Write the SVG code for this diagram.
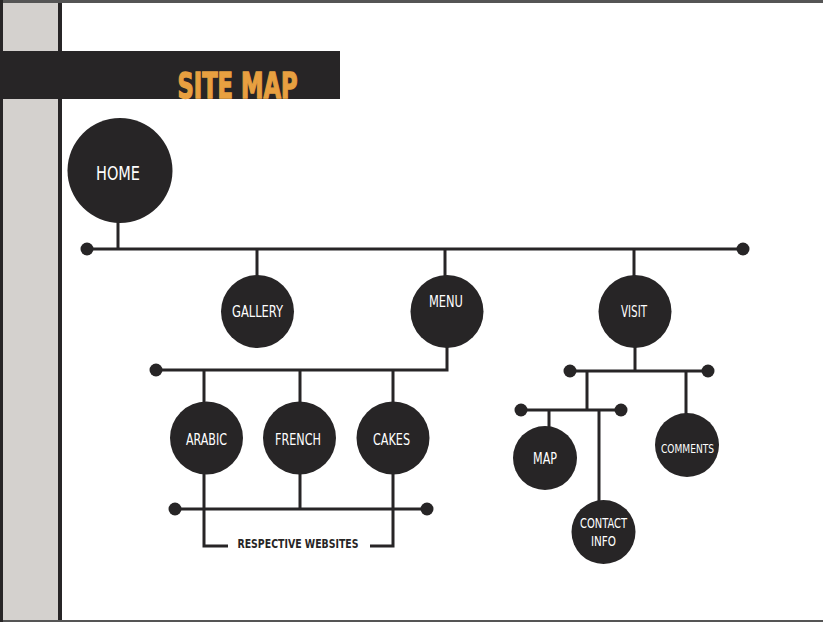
<svg xmlns="http://www.w3.org/2000/svg" width="823" height="622" viewBox="0 0 823 622">
<style>
.ln{stroke:#272526;stroke-width:3;fill:none}
.dot{fill:#272526}
.nd{fill:#272526}
.lb{fill:#ffffff;font-family:"Liberation Sans Narrow","DejaVu Sans Condensed","Liberation Sans",sans-serif;text-anchor:middle}
</style>
<rect x="0" y="0" width="823" height="622" fill="#ffffff"/>
<rect x="0" y="0" width="823" height="3" fill="#555555"/>
<rect x="0" y="620" width="823" height="2" fill="#555555"/>
<rect x="0" y="0" width="3" height="622" fill="#272526"/>
<rect x="3" y="3" width="55" height="617" fill="#d4d1ce"/>
<rect x="58" y="3" width="4" height="617" fill="#272526"/>
<g id="banner">
<rect x="0" y="51" width="340" height="48" fill="#272526"/>
<text x="177.5" y="97.5" font-family="'Liberation Sans Narrow','DejaVu Sans Condensed','Liberation Sans',sans-serif" font-weight="bold" font-size="35" fill="#e8a040" stroke="#e8a040" stroke-width="1.3" textLength="120" lengthAdjust="spacingAndGlyphs">SITE MAP</text>
</g>
<g id="connectors">
<line class="ln" x1="118" y1="220" x2="118" y2="249"/>
<line class="ln" x1="87" y1="249" x2="743" y2="249"/>
<circle class="dot" cx="87" cy="249" r="6.5"/>
<circle class="dot" cx="743" cy="249" r="6.5"/>
<line class="ln" x1="257" y1="249" x2="257" y2="278"/>
<line class="ln" x1="445" y1="249" x2="445" y2="278"/>
<line class="ln" x1="634" y1="249" x2="634" y2="278"/>
<polyline class="ln" points="447,346 447,370 156,370"/>
<circle class="dot" cx="156" cy="370" r="6.5"/>
<line class="ln" x1="204" y1="370" x2="204" y2="404"/>
<line class="ln" x1="300" y1="370" x2="300" y2="404"/>
<line class="ln" x1="393" y1="370" x2="393" y2="404"/>
<line class="ln" x1="175" y1="509" x2="427" y2="509"/>
<circle class="dot" cx="175" cy="509" r="6.5"/>
<circle class="dot" cx="427" cy="509" r="6.5"/>
<polyline class="ln" points="228,546 204,546 204,472"/>
<polyline class="ln" points="370,546 393,546 393,472"/>
<line class="ln" x1="300" y1="472" x2="300" y2="509"/>
<line class="ln" x1="635" y1="346" x2="635" y2="371"/>
<line class="ln" x1="570" y1="371" x2="708" y2="371"/>
<circle class="dot" cx="570" cy="371" r="6.5"/>
<circle class="dot" cx="708" cy="371" r="6.5"/>
<line class="ln" x1="587" y1="371" x2="587" y2="410"/>
<line class="ln" x1="686" y1="371" x2="686" y2="415"/>
<line class="ln" x1="521" y1="410" x2="621" y2="410"/>
<circle class="dot" cx="521" cy="410" r="6.5"/>
<circle class="dot" cx="621" cy="410" r="6.5"/>
<line class="ln" x1="549" y1="410" x2="549" y2="428"/>
<line class="ln" x1="599" y1="410" x2="599" y2="502"/>
</g>
<text x="298" y="548" font-family="'Liberation Sans Narrow','DejaVu Sans Condensed','Liberation Sans',sans-serif" font-weight="bold" font-size="12" fill="#272526" text-anchor="middle" textLength="121" lengthAdjust="spacingAndGlyphs">RESPECTIVE WEBSITES</text>
<g id="home"><circle class="nd" cx="120" cy="170.5" r="52.5"/><text class="lb" x="118" y="180" font-size="19" textLength="44" lengthAdjust="spacingAndGlyphs">HOME</text></g>
<g id="gallery"><circle class="nd" cx="257.5" cy="311.5" r="36.5"/><text class="lb" x="257.5" y="317" font-size="15" textLength="51" lengthAdjust="spacingAndGlyphs">GALLERY</text></g>
<g id="menu"><circle class="nd" cx="447" cy="311.5" r="36.5"/><text class="lb" x="446" y="307" font-size="15" textLength="34" lengthAdjust="spacingAndGlyphs">MENU</text></g>
<g id="visit"><circle class="nd" cx="635" cy="311.5" r="36.5"/><text class="lb" x="634" y="317" font-size="15" textLength="26" lengthAdjust="spacingAndGlyphs">VISIT</text></g>
<g id="arabic"><circle class="nd" cx="206.5" cy="438" r="36.5"/><text class="lb" x="206.5" y="445" font-size="15" textLength="41" lengthAdjust="spacingAndGlyphs">ARABIC</text></g>
<g id="french"><circle class="nd" cx="299.5" cy="438" r="36.5"/><text class="lb" x="298" y="445" font-size="15" textLength="46" lengthAdjust="spacingAndGlyphs">FRENCH</text></g>
<g id="cakes"><circle class="nd" cx="393" cy="438" r="36.5"/><text class="lb" x="391.5" y="445" font-size="15" textLength="37" lengthAdjust="spacingAndGlyphs">CAKES</text></g>
<g id="map"><circle class="nd" cx="545" cy="458" r="32"/><text class="lb" x="545" y="464" font-size="15" textLength="24" lengthAdjust="spacingAndGlyphs">MAP</text></g>
<g id="contact-info"><circle class="nd" cx="603.5" cy="532" r="32"/><text class="lb" x="603.5" y="528" font-size="14" textLength="47" lengthAdjust="spacingAndGlyphs">CONTACT</text><text class="lb" x="603.5" y="546" font-size="14" textLength="25" lengthAdjust="spacingAndGlyphs">INFO</text></g>
<g id="comments"><circle class="nd" cx="687" cy="445" r="32"/><text class="lb" x="687.5" y="453" font-size="13" textLength="53" lengthAdjust="spacingAndGlyphs">COMMENTS</text></g>
</svg>
